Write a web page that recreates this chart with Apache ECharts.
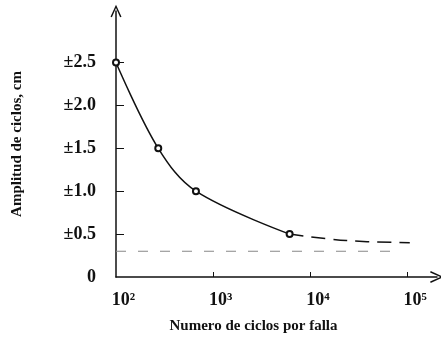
<!DOCTYPE html>
<html><head><meta charset="utf-8">
<script src="https://cdn.jsdelivr.net/npm/echarts@6/dist/echarts.min.js"></script>
<style>html,body{margin:0;padding:0;background:#fff}#c{width:441px;height:339px}</style>
</head><body><div id="c"></div>
<script>
// measured points
const cycles = [100, 272, 664, 6100];
const amplitude = [2.5, 1.5, 1.0, 0.5];
// dashed extrapolation of the curve
const extCycles = [6100, 23500, 105000];
const extAmplitude = [0.5, 0.425, 0.40];
// dashed horizontal reference line
const refCycles = [100, 85000];
const refAmplitude = [0.3, 0.3];
// tick labels
const yTicks = [0, 0.5, 1.0, 1.5, 2.0, 2.5];
const yTickText = ['0', '±0.5', '±1.0', '±1.5', '±2.0', '±2.5'];
const xTicks = [100, 1000, 10000, 100000];
const xTickText = ['10²', '10³', '10⁴', '10⁵'];

const font = 'Liberation Serif';
const arrow = 'path://M0,22 L10,0 L20,22 L17.5,23 L10,6 L2.5,23 Z';

const chart = echarts.init(document.getElementById('c'));
chart.setOption({
  animation: false,
  grid: {left: 116, right: 4, top: 11, bottom: 61},
  xAxis: {
    type: 'log', logBase: 10, min: 100, max: 200000,
    name: 'Numero de ciclos por falla', nameLocation: 'middle', nameGap: 42,
    nameTextStyle: {fontFamily: font, fontSize: 15, fontWeight: 'bold', color: '#111', padding: [0, 46, 0, 0]},
    axisLine: {lineStyle: {color: '#111', width: 1.5}, symbol: ['none', arrow], symbolSize: [12, 16]},
    axisTick: {inside: true, length: 5, lineStyle: {color: '#111'}, customValues: xTicks.slice(1)},
    axisLabel: {
      customValues: xTicks, margin: 14, fontFamily: font, fontSize: 18, fontWeight: 'bold', color: '#111',
      padding: [0, 0, 0, 15],
      formatter: v => xTickText[xTicks.findIndex(t => Math.abs(t - v) / t < 1e-6)] || ''
    },
    splitLine: {show: false}, minorTick: {show: false}
  },
  yAxis: {
    type: 'value', min: 0, max: 3.1,
    name: 'Amplitud de ciclos, cm', nameLocation: 'middle', nameGap: 91,
    nameTextStyle: {fontFamily: font, fontSize: 15, fontWeight: 'bold', color: '#111'},
    axisLine: {show: true, lineStyle: {color: '#111', width: 1.5}, symbol: ['none', arrow], symbolSize: [11, 22]},
    axisTick: {show: true, inside: true, length: 8, lineStyle: {color: '#111'}, customValues: yTicks.slice(1)},
    axisLabel: {
      customValues: yTicks, margin: 20, fontFamily: font, fontSize: 18, fontWeight: 'bold', color: '#111',
      formatter: v => yTickText[yTicks.findIndex(t => Math.abs(t - v) < 1e-6)] || ''
    },
    splitLine: {show: false}
  },
  series: [
    {
      type: 'line', data: refCycles.map((c, i) => [c, refAmplitude[i]]),
      symbol: 'none', lineStyle: {color: '#888', width: 1.2, type: [10, 12]}, z: 1
    },
    {
      type: 'line', data: extCycles.map((c, i) => [c, extAmplitude[i]]), smooth: 0.4,
      symbol: 'none', lineStyle: {color: '#111', width: 1.5, type: [14, 8]}, z: 2
    },
    {
      type: 'line', data: cycles.map((c, i) => [c, amplitude[i]]), smooth: 0.35,
      symbol: 'emptyCircle', symbolSize: 6,
      itemStyle: {color: '#111', borderColor: '#111', borderWidth: 1.5},
      lineStyle: {color: '#111', width: 1.5}, z: 3
    }
  ]
});
</script></body></html>
